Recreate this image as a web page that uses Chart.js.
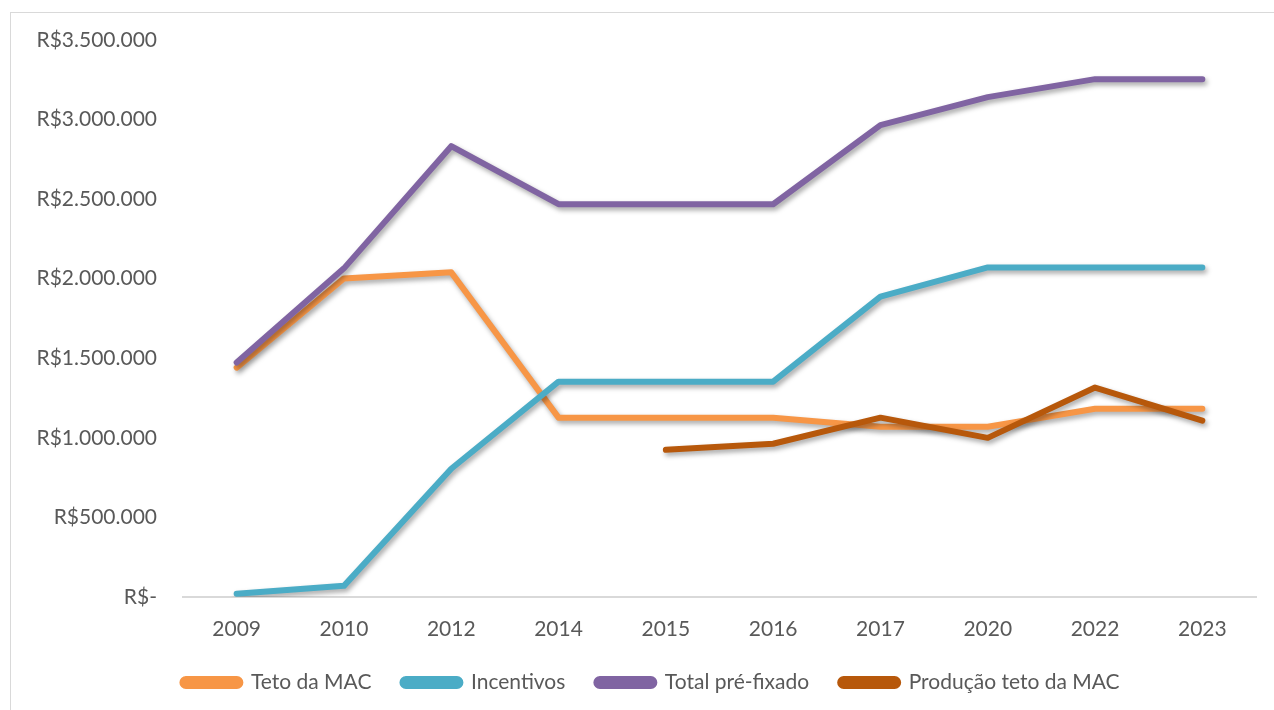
<!DOCTYPE html>
<html>
<head>
<meta charset="utf-8">
<script src="https://cdn.jsdelivr.net/npm/chart.js@4"></script>
<style>
  body { margin: 0; background: #fff; overflow: hidden; }
  #wrap { position: relative; width: 1274px; height: 710px; }
  #frame { position: absolute; left: 10px; top: 12px; width: 1400px; height: 800px; border: 1px solid #d9d9d9; pointer-events: none; }
</style>
</head>
<body>
<div id="wrap">
  <canvas id="chart" width="1274" height="710"></canvas>
  <div id="frame"></div>
</div>
<script>
const years = ['2009', '2010', '2012', '2014', '2015', '2016', '2017', '2020', '2022', '2023'];
const tetoMac = [1441000, 2002000, 2040000, 1127000, 1127000, 1127000, 1070000, 1070000, 1183000, 1183000];
const incentivos = [20000, 70000, 806000, 1353000, 1353000, 1353000, 1888000, 2071000, 2071000, 2071000];
const totalPrefixado = [1473000, 2065000, 2833000, 2468000, 2468000, 2468000, 2965000, 3141000, 3254000, 3254000];
const producaoTeto = [null, null, null, null, 925000, 963000, 1127000, 1000000, 1316000, 1108000];

const textColor = '#595959';
const fontFamily = 'Lato, "Open Sans", sans-serif';

// sombra nas linhas, como no Excel
const lineShadow = {
    id: 'lineShadow',
    beforeDatasetDraw(chart) {
        const ctx = chart.ctx;
        ctx.save();
        ctx.shadowColor = 'rgba(0, 0, 0, 0.35)';
        ctx.shadowBlur = 5;
        ctx.shadowOffsetX = 2;
        ctx.shadowOffsetY = 3;
    },
    afterDatasetDraw(chart) {
        chart.ctx.restore();
    }
};

// legenda centrada mais à direita, como no original
const legendShift = {
    id: 'legendShift',
    afterLayout(chart) {
        if (chart.legend) chart.legend.left += 46;
    }
};

function fmtReal(v) {
    if (v === 0) return 'R$-';
    return 'R$' + v.toString().replace(/\B(?=(\d{3})+(?!\d))/g, '.');
}

const lineStyle = { borderWidth: 6, pointRadius: 0, borderCapStyle: 'round', borderJoinStyle: 'round', tension: 0, fill: false };

new Chart(document.getElementById('chart'), {
    type: 'line',
    data: {
        labels: years,
        datasets: [
            { label: 'Teto da MAC', data: tetoMac, borderColor: '#F79646', backgroundColor: '#F79646', order: 4, ...lineStyle },
            { label: 'Incentivos', data: incentivos, borderColor: '#4BACC6', backgroundColor: '#4BACC6', order: 3, ...lineStyle },
            { label: 'Total pré-fixado', data: totalPrefixado, borderColor: '#8064A2', backgroundColor: '#8064A2', order: 2, ...lineStyle },
            { label: 'Produção teto da MAC', data: producaoTeto, borderColor: '#B7580B', backgroundColor: '#B7580B', order: 1, ...lineStyle }
        ]
    },
    options: {
        responsive: false,
        animation: false,
        layout: { padding: { left: 0, right: 18, top: 40, bottom: 7 } },
        plugins: {
            tooltip: { enabled: false },
            legend: {
                position: 'bottom',
                labels: {
                    color: textColor,
                    font: { family: fontFamily, size: 21 },
                    boxWidth: 58,
                    boxHeight: 7,
                    useBorderRadius: true,
                    borderRadius: 3.5,
                    padding: 31,
                    sort: (a, b) => a.datasetIndex - b.datasetIndex
                }
            }
        },
        scales: {
            x: {
                offset: true,
                grid: { display: false, drawTicks: false },
                border: { color: '#d9d9d9', width: 2 },
                ticks: { color: textColor, font: { family: fontFamily, size: 21 }, padding: 20 },
                afterFit: (scale) => { scale.height = 44; }
            },
            y: {
                min: 0,
                max: 3500000,
                grid: { display: false, drawTicks: false },
                border: { display: false },
                ticks: {
                    stepSize: 500000,
                    color: textColor,
                    font: { family: fontFamily, size: 21 },
                    padding: 26,
                    callback: (v) => fmtReal(v)
                },
                afterFit: (scale) => { scale.width = 183; }
            }
        }
    },
    plugins: [lineShadow, legendShift]
});
</script>
</body>
</html>
